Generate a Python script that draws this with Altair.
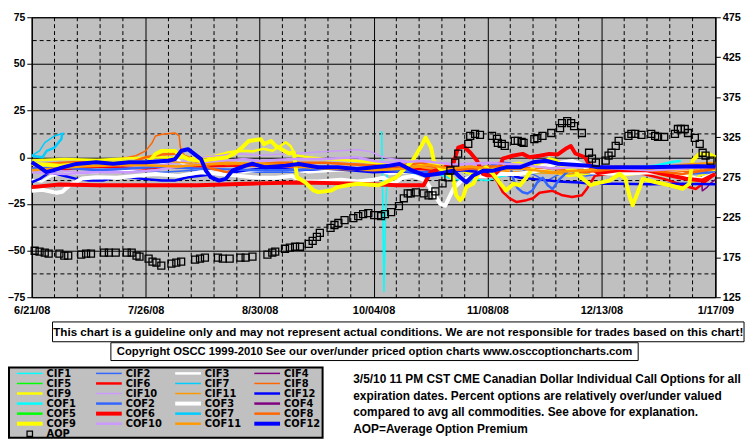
import altair as alt
import pandas as pd

START = pd.Timestamp("2008-06-21")

# ---------------- data: (day offset from 6/21/08, % over/under) ----------------
CIF1 = [(107.5, 14), (107.8, -20), (108.2, -72), (108.7, -30), (109.3, -4), (111, -4), (113, -7), (118, -9),
        (123, -8), (128, -11), (133, -13), (137, -12), (140, -12.5), (145, -10), (150, -9), (158, -8),
        (165, -9), (172, -8)]
CIF2 = [(0, -7), (10, -6), (20, -6.5), (30, -7), (40, -8), (50, -7), (60, -7.5), (70, -8), (80, -8), (90, -7),
        (100, -7), (110, -6), (115, -8), (120, -9), (128, -8), (135, -7), (140, -6), (143, -4), (146, -3),
        (150, -6), (155, -10), (158, -13), (161, -10), (165, -7), (170, -10), (175, -9), (185, -8), (195, -9),
        (205, -8), (210, -7)]
CIF3 = [(0, -12), (3, -13), (6, -10), (10, -9), (20, -8), (30, -7), (38, -5), (42, -2), (44, 0), (46, -3),
        (50, -6), (55, -7), (65, -8), (75, -6), (85, -8), (95, -7), (105, -6), (110, -9), (115, -8), (125, -7),
        (135, -6), (145, -7), (155, -5), (160, -3), (165, -2), (170, -5), (175, -7), (185, -6), (195, -8),
        (205, -7), (210, -6)]
CIF4 = [(205.5, -6), (206, -18), (207.5, -16), (208.5, -14), (210, -12)]
CIF5 = []
CIF6 = [(0, -6), (10, -6.5), (20, -5), (35, -6), (50, -5), (65, -4.5), (82, -5), (100, -6), (115, -6),
        (125, -7), (135, -6), (139, -7), (141, -9), (143, -13), (144.7, -18.7), (146.8, -22), (149, -24),
        (152, -23), (154, -22), (156, -19), (160, -18), (163, -20.4), (166, -21.3), (169, -20.4),
        (170.6, -16.7), (173, -10), (180, -8), (188, -9), (195, -12), (200, -15), (204, -17), (207, -13),
        (210, -9)]
CIF7 = [(0, 0.8), (2.4, 3.4), (4, 7.8), (7, 11.4), (10, 13)]
CIF8 = [(0, -3.5), (3, -3.5), (9.5, -2.7), (20, -1.8), (27, -1), (32, 0.8), (35, 3.4), (37, 7.8), (38, 11.4),
        (40, 12.3), (44, 13), (45.3, 11.4), (45.6, 6), (46, 3), (47, 1), (52, -2), (60, -4), (75, -3),
        (90, -3), (105, -4), (120, -5), (135, -6), (150, -5), (165, -7), (180, -6), (195, -8), (210, -7)]
CIF9 = [(0, -1.8), (10, -1), (20, -1.5), (30, -0.5), (40, 0), (50, -0.5), (56, 0.5), (60, 2.5), (64, 3.5),
        (68, 3.2), (71, 4.5), (74, 3.5), (76, 5.5), (78, 8), (79.5, 6), (81, 1), (85, 0), (90, -1),
        (95, -1.5), (100, -2), (105, -3), (110, -4), (115, -2), (120, -4), (125, -3), (130, -6), (135, -9),
        (140, -7), (145, -4), (150, -3), (155, -6), (160, -8), (165, -10), (170, -9), (175, -7), (180, -10),
        (185, -9), (190, -8), (195, -10), (200, -9), (203, -14), (205, -10), (210, -7)]
CIF10 = [(0, -6), (15, -8), (25, -7), (35, -5), (45, -3), (52, 0), (58, 1), (62, 2), (70, 1), (80, 2),
         (90, 3), (100, 4), (104, 3), (108, 0), (115, -2), (125, -3), (135, -4), (145, -5), (155, -3),
         (165, -4), (175, -6), (185, -5), (195, -6), (210, -4)]
CIF11 = [(0, -4), (20, -3), (40, -2), (55, -4), (70, -3), (90, -5), (105, -6), (112, -3), (118, -5),
         (125, -7), (135, -6), (150, -8), (165, -9), (180, -6), (195, -7), (210, -6)]
CIF12 = [(0, -13.4), (2.5, -11.6), (5.5, -8), (9.5, -9.8), (13.7, -11.6), (17.7, -12.5), (21.8, -12.5),
         (26, -10.7), (30, -10.7), (34, -11.6), (40, -12.5), (44, -12.5), (48, -10.7), (52.5, -9.8),
         (56, -9), (62, -8), (68, -6.5), (75, -6), (82, -7), (90, -6), (98, -7), (105, -8), (112, -7.5),
         (118, -8), (125, -9), (132, -7), (138, -8), (145, -9), (150, -11), (156, -12), (162, -13),
         (168, -13.5), (172, -14.2), (180, -14.2), (190, -14.5), (200, -14.2), (210, -14.5)]

COF1 = [(181, -7.2), (187, -5.4), (191.5, -4.5), (196.4, -2.7), (199.4, -1.9)]
COF2 = [(0, -6), (10, -5.5), (20, -7), (30, -6), (40, -5), (50, -6), (60, -6.5), (70, -7), (80, -7), (90, -6),
        (100, -6), (110, -7), (120, -8), (128, -7), (135, -6), (140, -5), (143, -3.4), (145, -3),
        (147, -3.4), (147.5, -9), (148.4, -14), (149.3, -16.7), (150.8, -18.8), (152.3, -19.4),
        (153.8, -17.8), (155.3, -13.5), (157, -11), (158.5, -15), (160, -17), (162, -12), (165, -7),
        (170, -8), (180, -8), (190, -7), (200, -9), (210, -8)]
COF3 = [(0, -18), (3.3, -17.5), (7.6, -19), (9.4, -18.5), (11.6, -15), (15.5, -11.4), (19.8, -10.7),
        (26, -11), (32, -10), (38, -9), (45, -10), (52, -8), (58, -9), (64, -10), (70, -11), (75, -11),
        (80, -10), (83, -13), (88, -13), (95, -12), (100, -13), (105, -12), (108, -11), (111, -14),
        (114, -11), (117, -10), (121, -12.5), (123, -18), (125.5, -25), (127, -26), (129.5, -17),
        (132, -12.5), (136, -10), (140, -10), (144, -9), (150, -9), (156, -7), (160, -4), (163, -3),
        (166, -2), (169, -4), (172, -8), (180, -9), (190, -8), (200, -9), (205, -12), (210, -9)]
COF4 = []
COF5 = []
COF6 = [(0, -16), (8.5, -14.6), (20.8, -15), (36, -15), (51, -15), (70, -14), (82, -13.5), (97, -14),
        (112.6, -15), (120.4, -15), (122.5, -8), (126, -6), (129.5, -3.5), (131, 5.2), (132.5, 6.1),
        (134.7, 2.5), (136.8, -1.9), (138.6, -8.9), (140.1, -9.8), (142, -9.5), (143.5, -7), (144.7, -0.8),
        (147.7, 0.8), (150.8, 1.8), (152.9, 0), (156, 0.8), (159, 1.8), (161.6, 1.5), (164, 4.5),
        (165.6, 6), (167, 2), (170, 0), (171.7, -5.5), (174, -8.5), (180, -7), (189, -7), (194, -9),
        (201, -11.5), (206, -12.5), (210, -9)]
COF7 = [(0, 0.8), (3.3, 0), (4.6, 3.4), (7, 5.2), (9.1, 9.8), (9.4, 13)]
COF8 = [(0, -4), (10, -3.5), (20, -3), (30, -3), (35, 0), (40, 1.5), (45, 2), (50, -2), (55, -6), (60, -8),
        (65, -5), (75, -3), (90, -3), (100, -4), (110, -5), (120, -3), (125, -6), (130, -7), (140, -5),
        (150, -5), (160, -6), (170, -8), (180, -6), (185, -6), (195, -8), (200, -9), (210, -6)]
COF9 = [(0, -3.5), (8.6, -4.5), (21, -3), (30, -2.5), (36, -2.5), (38, 1.7), (40, 3.4), (44, 3.4), (45, 1.7),
        (48, -1), (52, -2), (56, -1), (60, 0), (62, 1.7), (64.6, 5.2), (66.7, 8.7), (70.4, 9.6), (71.3, 7),
        (73.5, 8.7), (75, 6), (77, 4), (79, 2), (80.5, 2.5), (81.5, -10.7), (84, -13.4), (86.6, -17.8),
        (88, -18.7), (92, -17.8), (94, -16), (97, -15), (100, -14.2), (106.5, -15), (108, -14),
        (112, -10.7), (117, -1.8), (120, 7), (121, 10.5), (122.7, 5.2), (123.5, -1.8), (125.5, -6.3),
        (127, -7.2), (129.5, -11.6), (130.4, -20.4), (131.6, -23), (132.5, -21.3), (133.5, -16),
        (135.6, -14.2), (137.7, -7.2), (139.6, -5.4), (141.7, -8.9), (144, -14.2), (145.7, -17.8),
        (148, -14.2), (150, -15), (152, -10.7), (154, -5.4), (156, -2.7), (158, -1.9), (159, -1),
        (161, -1.9), (163, -4.5), (165, -6.3), (167, -7.2), (168, -9.8), (170, -12.5), (171.7, -15),
        (173, -14.2), (177.5, -12.5), (180.6, -8.9), (182.4, -11.6), (183.7, -21.3), (184.6, -25.7),
        (185.6, -21.3), (186.8, -16), (187.7, -11.6), (191.7, -13.4), (196, -15), (200, -16.9),
        (202, -14.2), (203, -1.8), (205, 1.7), (208, 1.7), (210, 0)]
COF10 = [(0, -8), (10, -9), (20, -8), (30, -8), (38, -7), (45, -5), (50, -4), (55, -3), (60, -2), (65, -1),
         (70, -2), (80, -1), (90, -1), (100, 0), (105, -2), (110, -3), (120, -2), (130, -4), (140, -3),
         (150, -4), (160, -6), (170, -5), (180, -6), (190, -7), (200, -6), (210, -5)]
COF11 = [(0, -7), (15, -5), (30, -4), (45, -5), (60, -3), (75, -4), (90, -6), (105, -7), (115, -6),
         (122, -4), (128, -6), (135, -5), (142, -7), (150, -6), (160, -8), (170, -7), (180, -5), (190, -6),
         (200, -4), (210, -3)]
COF12 = [(0, -2.7), (2.5, -5.4), (4.5, -8), (6.5, -7), (9.5, -5.4), (13.7, -3.6), (19.8, -2.7), (25, -3.5),
         (30, -2.7), (35, -2.7), (42, -1.9), (44, -1), (46, 3.5), (48, 4.3), (50, 1.7), (52, -1),
         (53.5, -7.2), (55, -10.7), (57.5, -12.5), (59.6, -11.6), (61.6, -7.2), (65.7, -4.5), (67.8, -3.5),
         (71.8, -5.4), (78, -4.5), (82, -3.6), (88, -5.4), (94, -5.4), (100, -6.3), (105, -5.4),
         (110, -4.5), (113, -3.6), (117, -7.2), (121, -9.8), (125.5, -8.7), (129.5, -7.2), (131.6, -10.7),
         (133.5, -13.4), (135.6, -9.8), (138.7, -7.2), (141.7, -7.2), (145.7, -5.4), (150, -5.4),
         (154, -2.7), (158, -1.9), (161.6, -3.5), (171, -4.5), (174, -5.4), (189, -5.4), (204.5, -4.8),
         (210, -5)]

# Average Option Premium (right axis)
AOP = [(0.9, 183.1), (2.4, 181.9), (4.0, 180.7), (5.2, 179.4), (8.5, 179.4), (10.0, 177), (11.2, 177),
       (15.2, 178.2), (16.7, 179.4), (18.2, 179.4), (22.2, 180.7), (23.7, 180.7), (25.8, 180.7),
       (29.2, 180.7), (30.7, 180.7), (32.2, 177), (33.1, 175.7), (35.9, 173.2), (37.1, 169.5),
       (38.3, 168.3), (39.8, 164.6), (42.9, 167), (44.4, 168.3), (45.9, 169.5), (50.2, 172), (51.7, 173.2),
       (53.2, 174.5), (57.2, 174.5), (58.7, 173.2), (60.8, 173.2), (64.1, 174.5), (65.7, 174.5),
       (67.8, 175.7), (72.4, 178.2), (73.9, 180.7), (74.8, 181.9), (77.8, 185.6), (79.3, 186.9),
       (80.9, 188.1), (82.4, 188.1), (85.1, 191.8), (86.3, 195.5), (87.6, 200.5), (88.5, 205.4),
       (91.8, 211.6), (93.0, 215.3), (94.2, 217.8), (96.1, 221.5), (98.8, 224), (100.3, 226.4),
       (101.8, 228.9), (103.4, 230.1), (105.2, 227.7), (106.4, 227.7), (107.3, 226.4), (108.5, 228.9),
       (110.4, 231.4), (112.8, 238.8), (114.3, 248.7), (115.5, 254.9), (116.4, 254.9), (118.0, 256.1),
       (120.4, 254.9), (121.9, 252.4), (123.1, 252.4), (124.0, 257.4), (126.2, 267.3), (128.0, 274.7),
       (128.6, 283.4), (130.1, 293.2), (131.0, 304.4), (134.1, 316.8), (134.7, 326.6), (136.2, 329.1),
       (137.7, 327.9), (141.4, 326.6), (142.9, 322.9), (143.2, 317.9), (144.4, 316.7), (145.3, 314.3),
       (148.4, 320.4), (149.3, 320.4), (150.5, 319.2), (151.1, 318), (154.4, 322.6), (155.3, 323.9),
       (156.9, 326.6), (159.6, 330.3), (162.3, 336.5), (162.9, 342.7), (164.5, 345.2), (165.7, 342.7),
       (166.6, 339), (169.0, 330.3), (171.2, 305.6), (172.1, 298.2), (173.3, 293.2), (176.3, 295.7),
       (177.2, 301.9), (178.1, 305.6), (179.4, 314.3), (180.3, 320.4), (183.3, 326.6), (184.2, 329.1),
       (185.4, 329.1), (187.3, 327.9), (190.3, 329.1), (191.5, 326.6), (192.4, 325.4), (194.3, 325.4),
       (197.6, 329.1), (198.5, 335.3), (199.4, 335.3), (200.6, 335.3), (201.6, 330.3), (203.7, 324.2),
       (205.2, 316.7), (206.1, 305.6), (207.0, 301.9), (208.5, 295.7)]

Y_TICKS = [-75, -50, -25, 0, 25, 50, 75]
Y_MINOR = [-62.5, -37.5, -12.5, 12.5, 37.5, 62.5]
AOP_TICKS = [125, 175, 225, 275, 325, 375, 425, 475]
X_MAJOR = [(2008, 6, 21), (2008, 7, 26), (2008, 8, 30), (2008, 10, 4), (2008, 11, 8), (2008, 12, 13),
           (2009, 1, 17)]

DISCLAIMER = ("This chart is a guideline only and may not represent actual conditions. "
              "We are not responsible for trades based on this chart!")
COPYRIGHT = "Copyright OSCC 1999-2010 See our over/under priced option charts  www.osccoptioncharts.com"
NOTE = ["3/5/10 11 PM CST CME Canadian Dollar Individual Call Options for all",
        "expiration dates. Percent options are relatively over/under valued",
        "compared to avg all commodities. See above for explanation.",
        "AOP=Average Option Premium"]

SERIES = {
    "CIF1": CIF1, "CIF2": CIF2, "CIF3": CIF3, "CIF4": CIF4, "CIF5": CIF5, "CIF6": CIF6,
    "CIF7": CIF7, "CIF8": CIF8, "CIF9": CIF9, "CIF10": CIF10, "CIF11": CIF11, "CIF12": CIF12,
    "COF1": COF1, "COF2": COF2, "COF3": COF3, "COF4": COF4, "COF5": COF5, "COF6": COF6,
    "COF7": COF7, "COF8": COF8, "COF9": COF9, "COF10": COF10, "COF11": COF11, "COF12": COF12,
}

# ---------------- styles ----------------
PALETTE = {1: "#00FFFF", 2: "#3366FF", 3: "#FFFFFF", 4: "#800080", 5: "#00FF00", 6: "#FF0000",
           7: "#00CCFF", 8: "#FF6600", 9: "#FFFF00", 10: "#CC99FF", 11: "#FF9900", 12: "#0000FF"}


def style(name):
    n = int(name[3:])
    thick = n % 3 == 0
    if name.startswith("CIF"):
        w = 2.5 if thick else 1.5
    else:
        w = 4 if thick else 2.5
    return PALETTE[n], w


AXFONT = "Liberation Sans, Arial"
TXFONT = "Liberation Sans, Arial"
LGFONT = "DejaVu Sans, Verdana"


def to_dates(days):
    return START + pd.to_timedelta(pd.Series(days, dtype=float), unit="D")


def dt(t):
    return alt.DateTime(year=t[0], month=t[1], date=t[2])


XSCALE = alt.Scale(domain=[dt(X_MAJOR[0]), dt(X_MAJOR[-1])], nice=False)
XAXIS = alt.Axis(values=[dt(t) for t in X_MAJOR], format="%-m/%d/%y", grid=True, gridColor="black",
                 gridOpacity=1, gridWidth=1, ticks=False, domain=False, labelFont=AXFONT,
                 labelFontSize=11, labelFontWeight="bold", labelColor="black", labelPadding=7,
                 labelFlush=False, labelOverlap=False, labelAngle=0, title=None)
YSCALE = alt.Scale(domain=[-75, 75], nice=False, zero=False)
YAXIS = alt.Axis(values=Y_TICKS, grid=True, gridColor="black", gridOpacity=1, gridWidth=1, tickSize=5,
                 tickColor="black", domainColor="black", labelFont=AXFONT, labelFontSize=10.5,
                 labelFontWeight="bold", labelColor="black", labelPadding=2, title=None)
X = alt.X("date:T", scale=XSCALE, axis=XAXIS)
Y = alt.Y("value:Q", scale=YSCALE, axis=YAXIS)

one = pd.DataFrame({"k": [0]})
layers = []

# dashed minor grid
hdf = pd.DataFrame({"value": Y_MINOR})
layers.append(alt.Chart(hdf).mark_rule(color="black", strokeWidth=1, strokeDash=[4, 3]).encode(y=Y))
all_weeks = pd.date_range("2008-06-21", "2009-01-17", freq="7D")
majors = set(pd.Timestamp(*t) for t in X_MAJOR)
vdf = pd.DataFrame({"date": [d for d in all_weeks if d not in majors]})
layers.append(alt.Chart(vdf).mark_rule(color="black", strokeWidth=1, strokeDash=[4, 3]).encode(x=X))

# series lines
for name, pts in SERIES.items():
    if not pts:
        continue
    c, w = style(name)
    df = pd.DataFrame({"date": to_dates([p[0] for p in pts]), "value": [p[1] for p in pts]})
    layers.append(alt.Chart(df).mark_line(color=c, strokeWidth=w, strokeJoin="round").encode(x=X, y=Y))

# text boxes below the plot (plot-relative pixel positions)
layers.append(alt.Chart(one).mark_rect(fill="white", stroke="black", strokeWidth=1).encode(
    x=alt.value(21), x2=alt.value(720), y=alt.value(308), y2=alt.value(328)))
layers.append(alt.Chart(one).mark_text(font=TXFONT, fontSize=11.75, fontWeight="bold", color="black",
                                       align="center", baseline="middle").encode(
    x=alt.value(370.5), y=alt.value(318.5), text=alt.value(DISCLAIMER)))
layers.append(alt.Chart(one).mark_rect(fill="white", stroke="black", strokeWidth=1).encode(
    x=alt.value(80), x2=alt.value(613), y=alt.value(329), y2=alt.value(347)))
layers.append(alt.Chart(one).mark_text(font=TXFONT, fontSize=11.4, fontWeight="bold", color="black",
                                       align="center", baseline="middle").encode(
    x=alt.value(346.5), y=alt.value(338.5), text=alt.value(COPYRIGHT)))
for i, line in enumerate(NOTE):
    layers.append(alt.Chart(one).mark_text(font=TXFONT, fontSize=12, fontWeight="bold", color="black",
                                           align="left", baseline="middle").encode(
        x=alt.value(325), y=alt.value(366 + 16.7 * i), text=alt.value(line)))

# legend
layers.append(alt.Chart(one).mark_rect(fill="#C0C0C0", stroke="black", strokeWidth=2).encode(
    x=alt.value(-23), x2=alt.value(294), y=alt.value(354), y2=alt.value(425)))
for i, name in enumerate(SERIES.keys()):
    col, row = i % 4, i // 4
    c, w = style(name)
    yy = 360 + 10.17 * row
    layers.append(alt.Chart(one).mark_rule(color=c, strokeWidth=w).encode(
        x=alt.value(-15 + 80 * col), x2=alt.value(11 + 80 * col), y=alt.value(yy)))
    layers.append(alt.Chart(one).mark_text(font=LGFONT, fontSize=10, fontWeight="bold", color="black",
                                           align="left", baseline="middle").encode(
        x=alt.value(15 + 80 * col), y=alt.value(yy + 0.5), text=alt.value(name)))
layers.append(alt.Chart(one).mark_point(shape="square", filled=False, color="black", size=30,
                                        strokeWidth=1.3, opacity=1).encode(
    x=alt.value(-2), y=alt.value(421)))
layers.append(alt.Chart(one).mark_text(font=LGFONT, fontSize=10, fontWeight="bold", color="black",
                                       align="left", baseline="middle").encode(
    x=alt.value(15), y=alt.value(421.5), text=alt.value("AOP")))

inner = alt.layer(*layers)

aop_df = pd.DataFrame({"date": to_dates([p[0] for p in AOP]), "aop": [p[1] for p in AOP]})
aop = alt.Chart(aop_df).mark_point(shape="square", filled=False, color="black", size=50, strokeWidth=1.3,
                                   opacity=1).encode(
    x=X,
    y=alt.Y("aop:Q", scale=alt.Scale(domain=[125, 475], nice=False, zero=False),
            axis=alt.Axis(orient="right", values=AOP_TICKS, grid=False, tickSize=5, tickColor="black",
                          domainColor="black", labelFont=AXFONT, labelFontSize=11, labelFontWeight="bold",
                          labelColor="black", labelPadding=2, title=None)))

chart = alt.layer(inner, aop).resolve_scale(y="independent").properties(
    width=691, height=283,
    padding={"left": 24, "top": 7, "right": 32, "bottom": 144},
    autosize=alt.AutoSizeParams(type="none"),
    background="white",
).configure_view(fill="#C0C0C0", stroke="black", strokeWidth=1)

chart.save("out.html", embed_options={"renderer": "svg", "actions": False})
